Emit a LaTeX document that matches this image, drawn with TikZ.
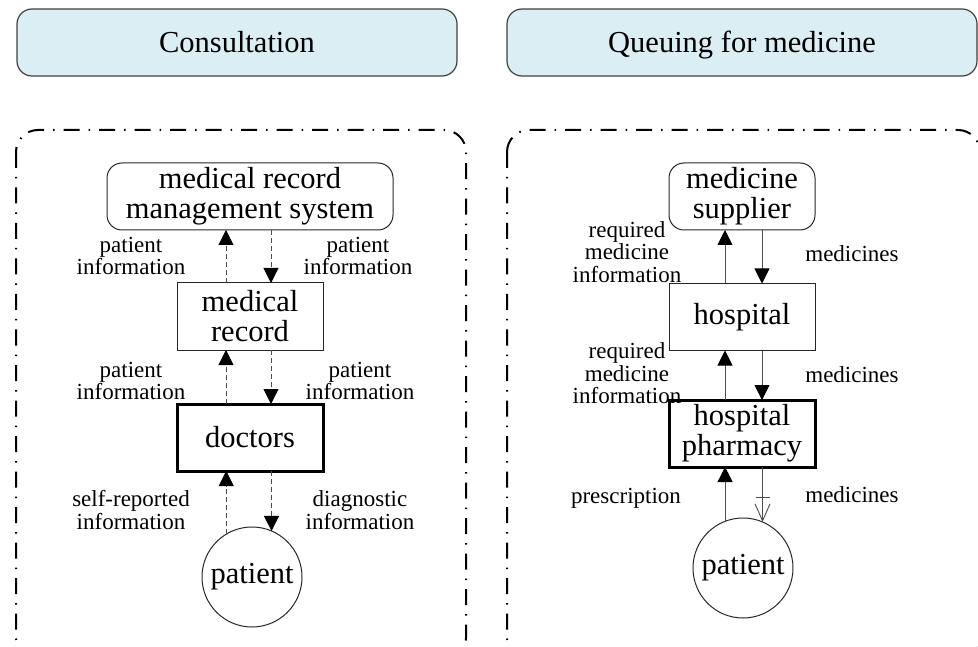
\documentclass[tikz,border=0pt]{standalone}
\usepackage{fontspec}
\setmainfont{Liberation Serif}
\usetikzlibrary{arrows.meta,decorations.markings}
\definecolor{bannerblue}{RGB}{218,238,243}

\begin{document}
\begin{tikzpicture}[x=1pt,y=-1pt,
  nodetext/.style={font=\fontsize{30.5}{30}\selectfont, align=center},
  entity/.style={draw=black!85, line width=1pt, minimum width=146pt, minimum height=67pt,
                 inner sep=0pt, outer sep=0pt, nodetext},
  sysbox/.style={entity, rounded corners=15pt},
  actor/.style={entity, draw=black, line width=3pt},
  person/.style={circle, draw=black!85, line width=1pt, minimum size=100pt,
                 inner sep=0pt, outer sep=0pt, nodetext},
  banner/.style={draw=black!75, line width=1.2pt, rounded corners=15pt, fill=bannerblue,
                 minimum height=67pt, inner sep=0pt, text height=21pt, text depth=0pt,
                 font=\fontsize{30.5}{30}\selectfont},
  frame/.style={line width=2pt, dash pattern=on 16pt off 9pt on 1.5pt off 9pt,
                rounded corners=22pt},
  lbl/.style={font=\fontsize{23}{22.5}\selectfont, align=center, inner sep=0pt},
  flow/.style={draw=black!70, line width=0.9pt,
               -{Triangle[length=15pt,width=15pt,color=black]}},
  dflow/.style={flow, dash pattern=on 5pt off 3pt},
  openflow/.style={draw=black!70, line width=0.9pt,
               -{Straight Barb[length=17pt,width=15pt]},
               postaction={decorate},
               decoration={markings, mark=at position 30pt with
                 {\draw[-, black!70, line width=0.9pt] (0pt,-7pt) -- (0pt,7pt);}}}
]
\path[use as bounding box, clip] (0,0) rectangle (978,647);

% stage headers
\node[banner, minimum width=440pt] (hdrA) at (237,42.5) {Consultation};
\node[banner, minimum width=470pt] (hdrB) at (742,42.5) {Queuing for medicine};

% stage frames
\draw[frame] (16,130) rectangle (466,660);
\draw[frame] (507,130) rectangle (980,660);

% consultation
\node[sysbox, minimum width=286pt] (mrms) at (250,196.5) {medical record\\management system};
\node[entity] (rec) at (250,316.5) {medical\\record};
\node[actor] (doc) at (250,437.5) {doctors};
\node[person] (patA) at (252,577) {patient};

\draw[dflow] ([xshift=-24pt]rec.north) -- ([xshift=-24pt]mrms.south);
\draw[dflow] ([xshift=21pt]mrms.south) -- ([xshift=21pt]rec.north);
\draw[dflow] ([xshift=-24pt]doc.north) -- ([xshift=-24pt]rec.south);
\draw[dflow] ([xshift=21pt]rec.south) -- ([xshift=21pt]doc.north);
\draw[dflow] (patA.121) -- (patA.121 |- doc.south);
\draw[dflow] (patA.67.5 |- doc.south) -- (patA.67.5);

\node[lbl] (la1) at (131,256) {patient\\information};
\node[lbl] (ra1) at (358,256) {patient\\information};
\node[lbl] (la2) at (131,381) {patient\\information};
\node[lbl] (ra2) at (360,381) {patient\\information};
\node[lbl] (la3) at (131,510) {self-reported\\information};
\node[lbl] (ra3) at (360,510) {diagnostic\\information};

% queuing for medicine
\node[sysbox] (sup) at (742,196.5) {medicine\\supplier};
\node[entity] (hosp) at (742,317) {hospital};
\node[actor] (pharm) at (742,433.5) {hospital\\pharmacy};
\node[person] (patB) at (743,568) {patient};

\draw[flow] ([xshift=-17pt]hosp.north) -- ([xshift=-17pt]sup.south);
\draw[flow] ([xshift=20pt]sup.south) -- ([xshift=20pt]hosp.north);
\draw[flow] ([xshift=-17pt]pharm.north) -- ([xshift=-17pt]hosp.south);
\draw[flow] ([xshift=20pt]hosp.south) -- ([xshift=20pt]pharm.north);
\draw[flow] (patB.111) -- (patB.111 |- pharm.south);
\draw[openflow] (patB.67.7 |- pharm.south) -- (patB.67.7);

\node[lbl] (lb1) at (627,252) {required\\medicine\\information};
\node[lbl] (rb1) at (852,254) {medicines};
\node[lbl] (lb2) at (627,373.5) {required\\medicine\\information};
\node[lbl] (rb2) at (852,375) {medicines};
\node[lbl] (lb3) at (626,498) {prescription};
\node[lbl] (rb3) at (852,495) {medicines};
\end{tikzpicture}
\end{document}
